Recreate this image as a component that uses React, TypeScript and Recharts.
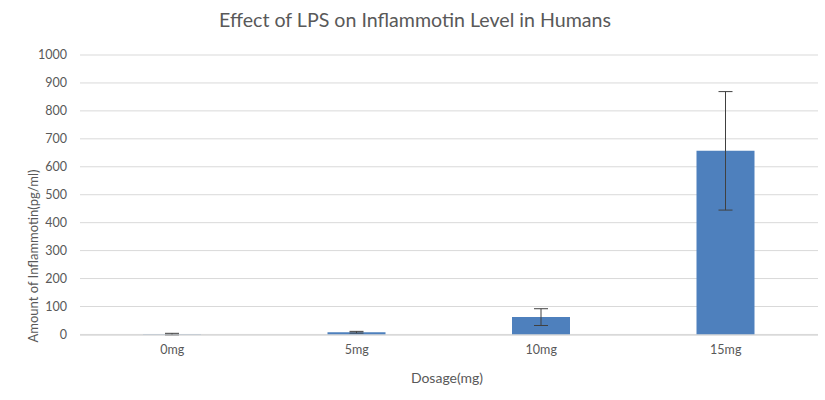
import { Bar, BarChart, CartesianGrid, ErrorBar, XAxis, YAxis } from "recharts";

const dosages = ["0mg", "5mg", "10mg", "15mg"];
const inflammotin = [1, 8, 62, 657];
const errors = [3, 3, 30, 212];
const yTicks = [0, 100, 200, 300, 400, 500, 600, 700, 800, 900, 1000];

const data = dosages.map((dose, i) => ({
  dose,
  value: inflammotin[i],
  err: errors[i],
}));

const font = "Lato, 'Open Sans', sans-serif";
const textGray = "#595959";

const YTitle = () => (
  <text
    x={33}
    y={256}
    transform="rotate(-90 33 256)"
    textAnchor="middle"
    dominantBaseline="central"
    fill={textGray}
    fontSize={13}
    fontFamily={font}
  >
    Amount of Inflammotin(pg/ml)
  </text>
);

const XTitle = () => (
  <text x={447} y={383} textAnchor="middle" fill={textGray} fontSize={14} fontFamily={font}>
    Dosage(mg)
  </text>
);

export default function App() {
  return (
    <div style={{ position: "absolute", left: 0, top: 0, width: 825, height: 400, background: "#fff" }}>
      <div
        style={{
          position: "absolute",
          left: 0,
          width: 830,
          top: 8,
          textAlign: "center",
          fontFamily: font,
          fontSize: 19.6,
          color: textGray,
        }}
      >
        Effect of LPS on Inflammotin Level in Humans
      </div>
      <BarChart width={825} height={400} data={data} margin={{ top: 55, right: 7, bottom: 35, left: 0 }}>
        <CartesianGrid vertical={false} stroke="#d9d9d9" />
        <XAxis
          dataKey="dose"
          height={30}
          tickLine={false}
          axisLine={{ stroke: "#d9d9d9" }}
          tickMargin={4}
          tick={{ fill: textGray, fontSize: 12.5, fontFamily: font }}
          label={{ content: XTitle }}
        />
        <YAxis
          width={80}
          domain={[0, 1000]}
          ticks={yTicks}
          tickLine={false}
          axisLine={false}
          tickMargin={7}
          tick={{ fill: textGray, fontSize: 12.5, fontFamily: font }}
          label={{ content: YTitle }}
        />
        <Bar dataKey="value" fill="#4e80bd" barSize={58} isAnimationActive={false}>
          <ErrorBar dataKey="err" width={7} stroke="#404040" strokeWidth={1} />
        </Bar>
      </BarChart>
    </div>
  );
}
